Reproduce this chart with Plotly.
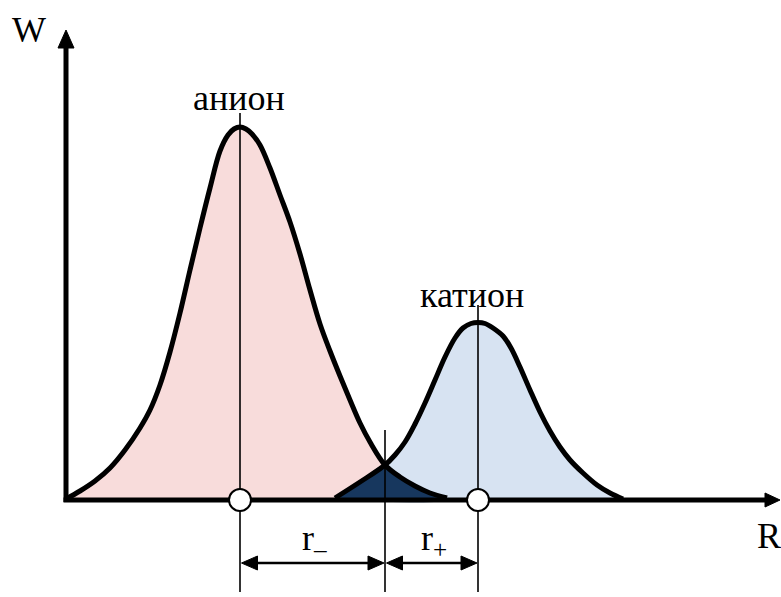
import plotly.graph_objects as go

# Electron density W(R) of an anion and a cation along the internuclear distance R
anion_r = [0.0, 1.4, 2.9, 4.4, 5.9, 7.4, 8.4, 9.4, 10.4, 11.4, 12.4, 13.4, 14.4, 15.4,
           16.2, 16.8, 17.4, 18.0, 18.6, 19.4, 20.4, 21.4, 22.4, 23.4, 24.4, 25.4,
           26.4, 27.4, 28.4, 29.4, 30.4, 31.9, 33.4, 34.9, 36.4, 38.1]
anion_w = [0.1, 0.9, 1.9, 3.2, 5.0, 7.2, 9.0, 11.5, 14.8, 18.7, 23.0, 27.2, 31.2, 34.9,
           36.5, 37.1, 37.3, 37.1, 36.6, 35.5, 33.2, 30.5, 27.8, 24.6, 21.0, 17.6,
           14.9, 12.4, 10.0, 7.7, 5.8, 3.5, 2.3, 1.4, 0.7, 0.2]

cation_r = [26.9, 29.4, 31.9, 32.9, 33.9, 34.9, 35.9, 36.9, 37.9, 38.9, 39.7, 40.5, 41.2,
            41.9, 42.7, 43.7, 44.5, 45.4, 46.4, 47.4, 48.4, 49.4, 50.4, 51.7, 53.1,
            54.4, 55.7]
cation_w = [0.2, 1.8, 3.5, 4.5, 5.8, 7.6, 9.7, 12.0, 14.3, 16.2, 17.2, 17.65, 17.75,
            17.65, 17.2, 16.4, 15.2, 13.3, 11.0, 8.8, 6.9, 5.3, 4.0, 2.7, 1.5,
            0.7, 0.1]

anion_center = 17.4
cation_center = 41.2
contact_r = 31.9          # where the two densities cross

ion_labels = ["анион", "катион"]
radius_labels = ["r<sub>–</sub>", "r<sub>+</sub>"]
axis_labels = ["W", "R"]

PINK = "#f8dcdb"
LIGHT_BLUE = "#d7e3f2"
DARK_BLUE = "#17375e"
FONT = "Liberation Serif"

fig = go.Figure()

# filled densities
fig.add_trace(go.Scatter(x=anion_r, y=anion_w, mode="lines", line=dict(width=0, shape="spline"),
                         fill="tozeroy", fillcolor=PINK, hoverinfo="skip"))
fig.add_trace(go.Scatter(x=cation_r, y=cation_w, mode="lines", line=dict(width=0, shape="spline"),
                         fill="tozeroy", fillcolor=LIGHT_BLUE, hoverinfo="skip"))

# overlap region: cation's rising edge up to the contact point, then the anion's tail
ov_r = [r for r in cation_r if r <= contact_r] + [r for r in anion_r if r > contact_r]
ov_w = [w for r, w in zip(cation_r, cation_w) if r <= contact_r] + \
       [w for r, w in zip(anion_r, anion_w) if r > contact_r]
ov_r = ov_r + [ov_r[-1], ov_r[0]]
ov_w = ov_w + [0, 0]
fig.add_trace(go.Scatter(x=ov_r, y=ov_w, mode="lines", line=dict(width=0, shape="spline"),
                         fill="toself", fillcolor=DARK_BLUE, hoverinfo="skip"))

# outlines of the densities
for xs, ys in [(anion_r, anion_w), (cation_r, cation_w)]:
    fig.add_trace(go.Scatter(x=xs, y=ys, mode="lines",
                             line=dict(color="black", width=5, shape="spline"), hoverinfo="skip"))

shapes = []
# coordinate axes
shapes.append(dict(type="line", x0=0, y0=-0.2, x1=0, y1=45.5, line=dict(color="black", width=5)))
shapes.append(dict(type="path", path="M -0.8 45.2 L 0 47.0 L 0.8 45.2 Z",
                   fillcolor="black", line=dict(color="black", width=1)))
shapes.append(dict(type="line", x0=-0.25, y0=0, x1=70.2, y1=0, line=dict(color="black", width=5)))
shapes.append(dict(type="path", path="M 69.9 0.7 L 71.4 0 L 69.9 -0.7 Z",
                   fillcolor="black", line=dict(color="black", width=1)))

# vertical markers through the nuclei and the contact point
for xv, ytop in [(anion_center, 38.7), (contact_r, 7.0), (cation_center, 19.5)]:
    shapes.append(dict(type="line", x0=xv, y0=ytop, x1=xv, y1=-9.2,
                       line=dict(color="black", width=1.6)))

# dimension arrows for the ionic radii
ya = -6.3
for xa, xb in [(anion_center + 0.15, contact_r - 0.1), (contact_r + 0.15, cation_center - 0.1)]:
    shapes.append(dict(type="line", x0=xa + 1.0, y0=ya, x1=xb - 1.0, y1=ya,
                       line=dict(color="black", width=2.5)))
    shapes.append(dict(type="path", path=f"M {xa} {ya} L {xa + 1.6} {ya + 0.7} L {xa + 1.6} {ya - 0.7} Z",
                       fillcolor="black", line=dict(color="black", width=1)))
    shapes.append(dict(type="path", path=f"M {xb} {ya} L {xb - 1.6} {ya + 0.7} L {xb - 1.6} {ya - 0.7} Z",
                       fillcolor="black", line=dict(color="black", width=1)))

# nuclei
for xc in [anion_center, cation_center]:
    shapes.append(dict(type="circle", x0=xc - 1.1, y0=-1.1, x1=xc + 1.1, y1=1.1,
                       fillcolor="white", line=dict(color="black", width=2)))

annotations = [
    dict(x=-3.7, y=47.0, text=axis_labels[0]),
    dict(x=70.3, y=-3.6, text=axis_labels[1]),
    dict(x=17.3, y=40.2, text=ion_labels[0]),
    dict(x=40.6, y=20.5, text=ion_labels[1]),
    dict(x=24.8, y=-4.0, text=radius_labels[0]),
    dict(x=36.8, y=-4.0, text=radius_labels[1]),
]
for a in annotations:
    a.update(xref="x", yref="y", showarrow=False, xanchor="center", yanchor="middle",
             font=dict(family=FONT, size=36, color="black"))

fig.update_layout(
    width=781, height=597,
    margin=dict(l=0, r=0, t=0, b=0),
    paper_bgcolor="white", plot_bgcolor="white",
    showlegend=False,
    xaxis=dict(range=[-6.6, 71.5], visible=False, fixedrange=True),
    yaxis=dict(range=[-9.7, 50.0], visible=False, fixedrange=True),
    shapes=shapes,
    annotations=annotations,
)

fig.write_html("out.html")
